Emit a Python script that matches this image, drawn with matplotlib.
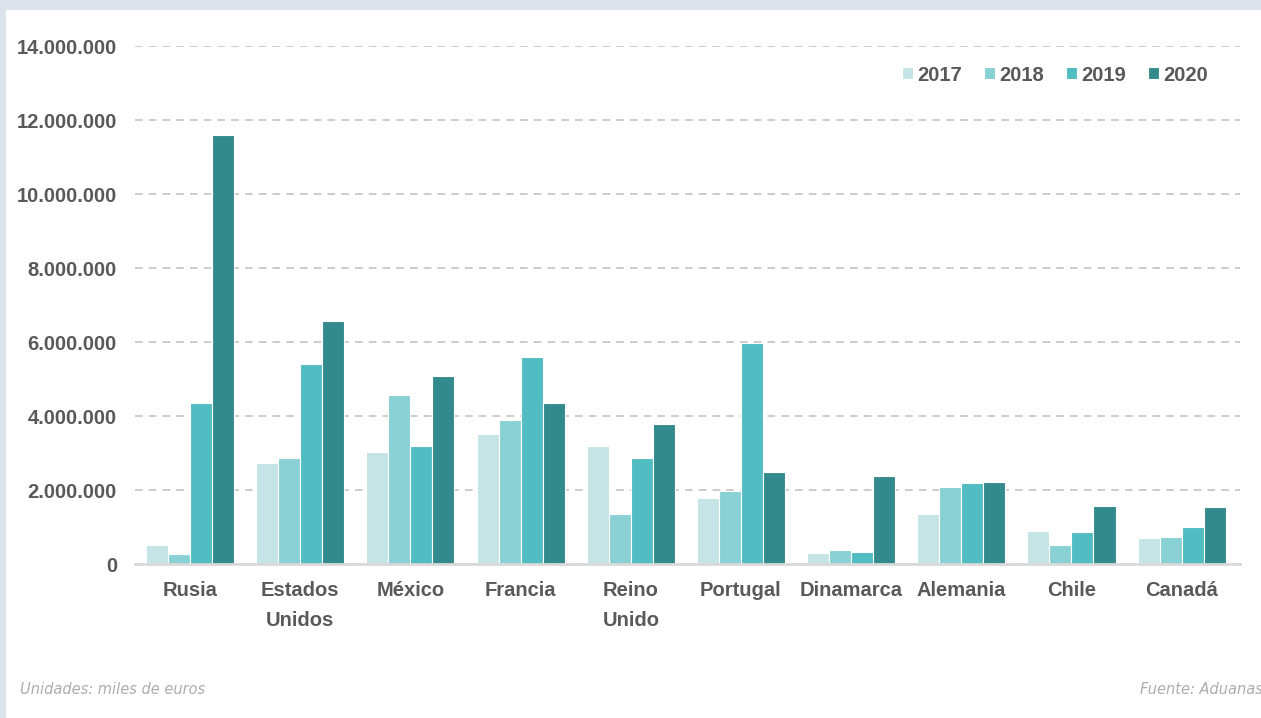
import matplotlib
matplotlib.use('Agg')
import matplotlib.pyplot as plt
from matplotlib.patches import Rectangle
from matplotlib.ticker import FuncFormatter
import numpy as np

paises = ['Rusia', 'Estados\nUnidos', 'México', 'Francia', 'Reino\nUnido',
          'Portugal', 'Dinamarca', 'Alemania', 'Chile', 'Canadá']
anios = ['2017', '2018', '2019', '2020']
v2017 = [510000, 2730000, 3030000, 3510000, 3190000, 1780000, 310000, 1350000, 900000, 690000]
v2018 = [270000, 2860000, 4570000, 3890000, 1350000, 1970000, 380000, 2090000, 510000, 730000]
v2019 = [4350000, 5400000, 3190000, 5590000, 2860000, 5970000, 330000, 2180000, 870000, 1010000]
v2020 = [11600000, 6570000, 5080000, 4350000, 3780000, 2490000, 2380000, 2210000, 1570000, 1530000]
colores = ['#C5E4E6', '#8AD1D6', '#52BCC3', '#338A8D']

font = ['Liberation Sans Narrow', 'Liberation Sans', 'DejaVu Sans']
gris = '#595959'

fig = plt.figure(figsize=(12.61, 7.18), dpi=100, facecolor='white')
# marco gris azulado arriba y a la izquierda
fig.patches.append(Rectangle((0, 1 - 10 / 718), 1, 10 / 718, transform=fig.transFigure,
                             facecolor='#DDE3EA', edgecolor='none', zorder=-10))
fig.patches.append(Rectangle((0, 0), 6 / 1261, 1, transform=fig.transFigure,
                             facecolor='#DDE3EA', edgecolor='none', zorder=-10))
ax = fig.add_axes([135 / 1261, 1 - 564 / 718, (1240 - 135) / 1261, (564 - 46) / 718])
ax.set_facecolor('none')

x = np.arange(len(paises))
w = 0.2
series = [v2017, v2018, v2019, v2020]
for i, (vals, c, a) in enumerate(zip(series, colores, anios)):
    ax.bar(x + (i - 1.5) * w, vals, width=w, color=c, edgecolor='white', linewidth=0.8,
           label=a, zorder=3)

ax.set_xlim(-0.5, len(paises) - 0.5 + 0.03)
ax.set_ylim(0, 14000000)
ax.set_yticks(np.arange(0, 14000001, 2000000))
ax.yaxis.set_major_formatter(FuncFormatter(lambda v, p: f'{int(v):,}'.replace(',', '.')))
ax.grid(axis='y', color='#BFBFBF', linestyle=(0, (5, 4)), linewidth=1.1, zorder=1)
for s in ['top', 'right', 'left']:
    ax.spines[s].set_visible(False)
ax.spines['bottom'].set_color('#D9D9D9')
ax.spines['bottom'].set_linewidth(2)
ax.spines['bottom'].set_zorder(4)
ax.tick_params(axis='both', length=0, colors=gris)
ax.tick_params(axis='y', pad=13)
ax.tick_params(axis='x', pad=12)
ax.set_xticks(x)
ax.set_xticklabels(paises, linespacing=1.75)
for lab in ax.get_xticklabels() + ax.get_yticklabels():
    lab.set_fontfamily(font)
    lab.set_fontsize(14.5)
    lab.set_fontweight('bold')
    lab.set_color(gris)

leg = ax.legend(loc='center right', bbox_to_anchor=(0.971, 0.944), ncol=4, frameon=False,
                borderaxespad=0, borderpad=0,
                handlelength=0.55, handleheight=0.55, handletextpad=0.2, columnspacing=1.1,
                prop={'family': font, 'size': 14.5, 'weight': 'bold'})
for t in leg.get_texts():
    t.set_color(gris)

fig.text(20 / 1261, 1 - 690 / 718, 'Unidades: miles de euros', fontsize=10.5, style='italic',
         color='#ADADAD', va='center', ha='left')
fig.text(1140 / 1261, 1 - 690 / 718, 'Fuente: Aduanas', fontsize=10.5, style='italic',
         color='#ADADAD', va='center', ha='left')

fig.savefig('out.png', dpi=100, facecolor=fig.get_facecolor())
